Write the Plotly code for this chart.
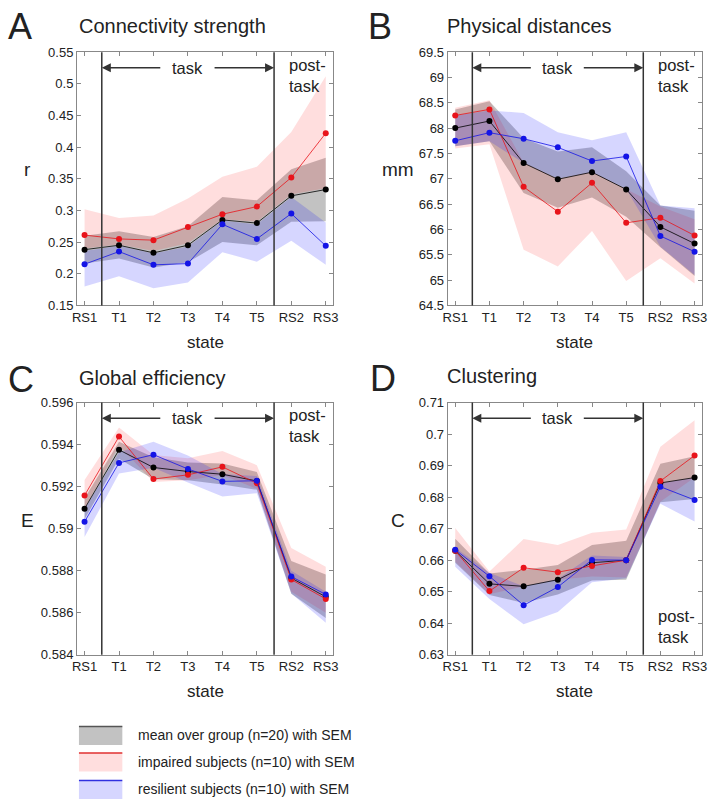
import plotly.graph_objects as go

W, H = 714, 811
FONT = "Liberation Sans, Arial, sans-serif"

states = ["RS1", "T1", "T2", "T3", "T4", "T5", "RS2", "RS3"]
pos = list(range(1, len(states) + 1))

# A - connectivity strength
A_mean = [0.238, 0.245, 0.233, 0.245, 0.285, 0.280, 0.323, 0.333]
A_mean_lo = [0.216, 0.224, 0.210, 0.218, 0.250, 0.245, 0.282, 0.283]
A_mean_hi = [0.260, 0.267, 0.258, 0.275, 0.321, 0.316, 0.365, 0.383]
A_imp = [0.261, 0.255, 0.253, 0.274, 0.294, 0.306, 0.352, 0.422]
A_imp_lo = [0.240, 0.246, 0.236, 0.248, 0.286, 0.282, 0.325, 0.335]
A_imp_hi = [0.302, 0.288, 0.292, 0.319, 0.353, 0.369, 0.424, 0.512]
A_res = [0.215, 0.235, 0.214, 0.216, 0.278, 0.255, 0.295, 0.244]
A_res_lo = [0.180, 0.196, 0.177, 0.186, 0.234, 0.219, 0.252, 0.214]
A_res_hi = [0.236, 0.244, 0.232, 0.243, 0.284, 0.278, 0.321, 0.281]
A_ticks = [0.15, 0.2, 0.25, 0.3, 0.35, 0.4, 0.45, 0.5, 0.55]

# B - physical distances
B_mean = [68.00, 68.14, 67.31, 66.99, 67.13, 66.79, 66.05, 65.72]
B_mean_lo = [67.64, 67.74, 66.72, 66.43, 66.63, 66.25, 65.65, 65.08]
B_mean_hi = [68.37, 68.53, 67.80, 67.54, 67.62, 67.15, 66.47, 66.37]
B_imp = [68.25, 68.37, 66.84, 66.35, 66.92, 66.13, 66.23, 65.88]
B_imp_lo = [67.60, 67.68, 65.60, 65.27, 65.97, 64.98, 65.43, 64.93]
B_imp_hi = [68.40, 68.55, 67.32, 67.00, 67.14, 66.80, 66.45, 66.20]
B_res = [67.75, 67.91, 67.79, 67.62, 67.35, 67.44, 65.87, 65.56]
B_res_lo = [67.64, 67.74, 67.31, 67.00, 67.13, 66.80, 65.66, 65.10]
B_res_hi = [68.25, 68.35, 68.30, 67.92, 67.76, 67.92, 66.47, 66.42]
B_ticks = [64.5, 65, 65.5, 66, 66.5, 67, 67.5, 68, 68.5, 69, 69.5]

# C - global efficiency
C_mean = [0.59095, 0.59375, 0.59291, 0.59272, 0.59259, 0.59227, 0.58765, 0.58676]
C_mean_lo = [0.59045, 0.59333, 0.59235, 0.59230, 0.59210, 0.59185, 0.58690, 0.58575]
C_mean_hi = [0.59145, 0.59414, 0.59340, 0.59315, 0.59310, 0.59270, 0.58846, 0.58782]
C_imp = [0.59158, 0.59438, 0.59236, 0.59256, 0.59294, 0.59216, 0.58758, 0.58666]
C_imp_lo = [0.59095, 0.59395, 0.59222, 0.59230, 0.59255, 0.59190, 0.58700, 0.58600]
C_imp_hi = [0.59231, 0.59481, 0.59350, 0.59335, 0.59370, 0.59302, 0.58908, 0.58819]
C_res = [0.59033, 0.59313, 0.59352, 0.59284, 0.59225, 0.59228, 0.58772, 0.58687]
C_res_lo = [0.58960, 0.59262, 0.59290, 0.59220, 0.59153, 0.59169, 0.58692, 0.58553]
C_res_hi = [0.59095, 0.59364, 0.59414, 0.59348, 0.59260, 0.59250, 0.58800, 0.58700]
C_ticks = [0.584, 0.586, 0.588, 0.59, 0.592, 0.594, 0.596]

# D - clustering
D_mean = [0.6630, 0.6525, 0.6517, 0.6538, 0.6592, 0.6600, 0.6845, 0.6862]
D_mean_lo = [0.6592, 0.6490, 0.6464, 0.6491, 0.6536, 0.6538, 0.6784, 0.6794]
D_mean_hi = [0.6668, 0.6558, 0.6570, 0.6585, 0.6648, 0.6662, 0.6906, 0.6930]
D_imp = [0.6630, 0.6502, 0.6576, 0.6562, 0.6582, 0.6600, 0.6851, 0.6932]
D_imp_lo = [0.6595, 0.6492, 0.6517, 0.6538, 0.6548, 0.6545, 0.6785, 0.6862]
D_imp_hi = [0.6702, 0.6564, 0.6667, 0.6648, 0.6687, 0.6697, 0.6960, 0.7044]
D_res = [0.6633, 0.6549, 0.6457, 0.6515, 0.6601, 0.6600, 0.6833, 0.6791]
D_res_lo = [0.6579, 0.6477, 0.6397, 0.6436, 0.6530, 0.6543, 0.6779, 0.6723]
D_res_hi = [0.6640, 0.6560, 0.6517, 0.6540, 0.6615, 0.6610, 0.6845, 0.6862]
D_ticks = [0.63, 0.64, 0.65, 0.66, 0.67, 0.68, 0.69, 0.7, 0.71]

legend_labels = ["mean over group (n=20) with SEM",
                 "impaired subjects (n=10) with SEM",
                 "resilient subjects (n=10) with SEM"]

GRAY_FILL = "rgba(0,0,0,0.24)"
RED_FILL = "rgba(255,0,0,0.13)"
BLUE_FILL = "rgba(0,0,255,0.16)"
BLACK = "#000000"
RED = "#e8141b"
BLUE = "#1414e6"


def px(x):
    return x / W


def py(y):
    return 1 - y / H


def band(lo, hi, color, xa, ya):
    return go.Scatter(x=pos + pos[::-1], y=hi + lo[::-1], fill="toself", fillcolor=color,
                      mode="lines", line=dict(width=0), hoverinfo="skip",
                      showlegend=False, xaxis=xa, yaxis=ya)


def series(y, color, xa, ya):
    return go.Scatter(x=pos, y=y, mode="lines+markers", line=dict(color=color, width=0.8),
                      marker=dict(color=color, size=6), showlegend=False, xaxis=xa, yaxis=ya)


def fmt(v):
    return ("%g" % v)


# letter, title, ylabel, data..., ticks, x domain px, y domain px, letter pos, title pos, post-task y
panels = [
    ("A", "Connectivity strength", "r", A_mean, A_mean_lo, A_mean_hi, A_imp, A_imp_lo, A_imp_hi,
     A_res, A_res_lo, A_res_hi, A_ticks, (73, 333), (46, 304), (1, 20), (73, 19), 0.908),
    ("B", "Physical distances", "mm", B_mean, B_mean_lo, B_mean_hi, B_imp, B_imp_lo, B_imp_hi,
     B_res, B_res_lo, B_res_hi, B_ticks, (449, 707), (46, 304), (366, 20), (446, 19), 0.908),
    ("C", "Global efficiency", "E", C_mean, C_mean_lo, C_mean_hi, C_imp, C_imp_lo, C_imp_hi,
     C_res, C_res_lo, C_res_hi, C_ticks, (73, 333), (403, 660), (1, 380), (73, 378), 0.908),
    ("D", "Clustering", "C", D_mean, D_mean_lo, D_mean_hi, D_imp, D_imp_lo, D_imp_hi,
     D_res, D_res_lo, D_res_hi, D_ticks, (449, 707), (403, 660), (368, 378), (446, 376), 0.113),
]

fig = go.Figure()
layout = dict(width=W, height=H, margin=dict(l=0, r=0, t=0, b=0),
              paper_bgcolor="white", plot_bgcolor="white",
              font=dict(family=FONT, color="#222"), showlegend=False)
annotations = []
shapes = []

for i, p in enumerate(panels):
    (letter, title, ylab, m, m_lo, m_hi, imp, imp_lo, imp_hi,
     res, res_lo, res_hi, ticks, xd, yd, lpos, tpos, post_y) = p
    n = "" if i == 0 else str(i + 1)
    xa, ya = "x" + n, "y" + n

    fig.add_trace(band(m_lo, m_hi, GRAY_FILL, xa, ya))
    fig.add_trace(band(imp_lo, imp_hi, RED_FILL, xa, ya))
    fig.add_trace(band(res_lo, res_hi, BLUE_FILL, xa, ya))
    fig.add_trace(series(m, BLACK, xa, ya))
    fig.add_trace(series(imp, RED, xa, ya))
    fig.add_trace(series(res, BLUE, xa, ya))

    axis_style = dict(ticks="inside", ticklen=4, tickcolor="#888", showline=True,
                      linecolor="#888", linewidth=1, mirror="allticks", showgrid=False,
                      zeroline=False, tickfont=dict(size=13, color="#222", family=FONT))
    layout["xaxis" + n] = dict(domain=[px(xd[0]), px(xd[1])], anchor=ya, range=[0.78, 8.22],
                               tickvals=pos, ticktext=states, **axis_style)
    layout["yaxis" + n] = dict(domain=[py(yd[1]), py(yd[0])], anchor=xa,
                               range=[ticks[0], ticks[-1]], tickvals=ticks,
                               ticktext=[fmt(t) for t in ticks], **axis_style)

    for xv in (1.5, 6.5):
        shapes.append(dict(type="line", xref=xa, yref=ya + " domain", x0=xv, x1=xv, y0=0, y1=1,
                           line=dict(color="#333", width=1.5)))

    top = yd[0]
    annotations += [
        dict(text=letter, xref="paper", yref="paper", x=px(lpos[0]), y=py(lpos[1]),
             xanchor="left", yanchor="middle", showarrow=False, font=dict(size=36, color="#222")),
        dict(text=title, xref="paper", yref="paper", x=px(tpos[0]), y=py(tpos[1]),
             xanchor="left", yanchor="middle", showarrow=False, font=dict(size=20, color="#222")),
        dict(text=ylab, xref="paper", yref="paper", x=px(xd[0] - 50), y=py(top + 120),
             xanchor="center", yanchor="middle", showarrow=False, font=dict(size=19, color="#222")),
        dict(text="state", xref=xa + " domain", yref=ya + " domain", x=0.5, y=0, yshift=-37,
             xanchor="center", yanchor="middle", showarrow=False, font=dict(size=17, color="#222")),
        dict(text="task", xref=xa, yref=ya + " domain", x=4.0, y=0.938,
             xanchor="center", yanchor="middle", showarrow=False, font=dict(size=16.5, color="#222")),
        dict(text="", xref=xa, yref=ya + " domain", x=1.5, y=0.938, ax=60, ay=0,
             showarrow=True, arrowhead=2, arrowsize=1.2, arrowwidth=1.5, arrowcolor="#333"),
        dict(text="", xref=xa, yref=ya + " domain", x=6.5, y=0.938, ax=-61, ay=0,
             showarrow=True, arrowhead=2, arrowsize=1.2, arrowwidth=1.5, arrowcolor="#333"),
        dict(text="post-<br>task", xref=xa, yref=ya + " domain", x=6.88, y=post_y,
             xanchor="left", yanchor="middle", align="left", showarrow=False,
             font=dict(size=16.5, color="#222")),
    ]

# legend
leg_fill = [GRAY_FILL, RED_FILL, BLUE_FILL]
leg_line = ["#555555", "#e03030", "#3030e0"]
leg_top = [733, 760, 788]
for lab, fc, lc, t in zip(legend_labels, leg_fill, leg_line, leg_top):
    shapes.append(dict(type="rect", xref="paper", yref="paper", x0=px(75), x1=px(119),
                       y0=py(t + 19), y1=py(t), fillcolor=fc, line=dict(width=0)))
    shapes.append(dict(type="line", xref="paper", yref="paper", x0=px(75), x1=px(119),
                       y0=py(t), y1=py(t), line=dict(color=lc, width=1.5)))
    annotations.append(dict(text=lab, xref="paper", yref="paper", x=px(133), y=py(t + 9),
                            xanchor="left", yanchor="middle", showarrow=False,
                            font=dict(size=14, color="#222")))

layout["annotations"] = annotations
layout["shapes"] = shapes
fig.update_layout(**layout)
# page body has a default margin; drop it so the figure fills the window exactly
fig.write_html("out.html", config={"displayModeBar": False},
               post_script="document.body.style.margin='0';")
